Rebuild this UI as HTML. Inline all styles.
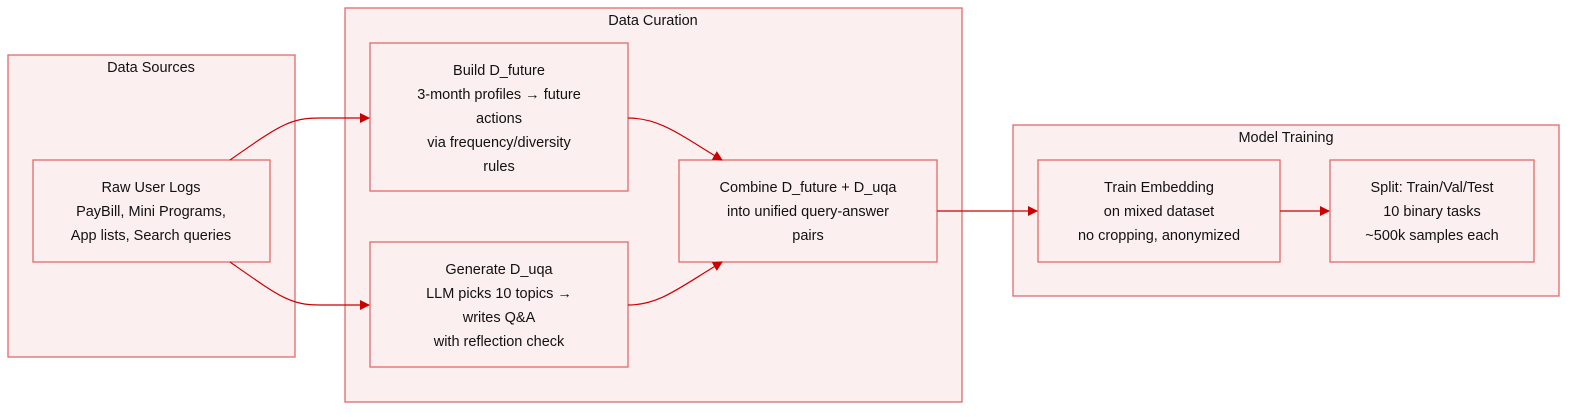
<!DOCTYPE html>
<html><head><meta charset="utf-8"><style>
html,body{margin:0;padding:0;background:#fff;}
svg text{font-family:"Liberation Sans",sans-serif;font-size:14.5px;fill:#111;text-anchor:middle;}
</style></head><body>
<svg width="1572" height="412" viewBox="0 0 1572 412" xmlns="http://www.w3.org/2000/svg">
<defs><marker id="a" markerWidth="10" markerHeight="10" refX="9" refY="5" orient="auto" markerUnits="userSpaceOnUse"><path d="M0,0 L10,5 L0,10 z" fill="#cc0000"/></marker></defs>
<g fill="#fcefef" stroke="#e06a6a" stroke-width="1.3">
<rect x="8" y="55" width="287" height="302"/>
<rect x="345" y="8" width="617" height="394"/>
<rect x="1013" y="125" width="546" height="171"/>
<rect x="33" y="160" width="237" height="102"/>
<rect x="370" y="43" width="258" height="148"/>
<rect x="370" y="242" width="258" height="125"/>
<rect x="679" y="160" width="258" height="102"/>
<rect x="1038" y="160" width="242" height="102"/>
<rect x="1330" y="160" width="204" height="102"/>
</g>
<g fill="none" stroke="#cc0000" stroke-width="1.2" marker-end="url(#a)">
<path d="M230,160 C280,125 290,118 320,118 L369,118"/>
<path d="M230,262 C280,297 290,305 320,305 L369,305"/>
<path d="M628,118 C660,118 680,135 722,160"/>
<path d="M628,305 C660,305 680,287 722,262"/>
<path d="M937,211 L1037,211"/>
<path d="M1280,211 L1329,211"/>
</g>
<text x="151" y="72">Data Sources</text>
<text x="653" y="25">Data Curation</text>
<text x="1286" y="142">Model Training</text>
<text x="151" y="192">Raw User Logs</text>
<text x="151" y="216">PayBill, Mini Programs,</text>
<text x="151" y="240">App lists, Search queries</text>
<text x="499" y="75">Build D_future</text>
<text x="499" y="99">3-month profiles → future</text>
<text x="499" y="123">actions</text>
<text x="499" y="147">via frequency/diversity</text>
<text x="499" y="171">rules</text>
<text x="499" y="274">Generate D_uqa</text>
<text x="499" y="298">LLM picks 10 topics →</text>
<text x="499" y="322">writes Q&amp;A</text>
<text x="499" y="346">with reflection check</text>
<text x="808" y="192">Combine D_future + D_uqa</text>
<text x="808" y="216">into unified query-answer</text>
<text x="808" y="240">pairs</text>
<text x="1159" y="192">Train Embedding</text>
<text x="1159" y="216">on mixed dataset</text>
<text x="1159" y="240">no cropping, anonymized</text>
<text x="1432" y="192">Split: Train/Val/Test</text>
<text x="1432" y="216">10 binary tasks</text>
<text x="1432" y="240">~500k samples each</text>
</svg>
</body></html>
